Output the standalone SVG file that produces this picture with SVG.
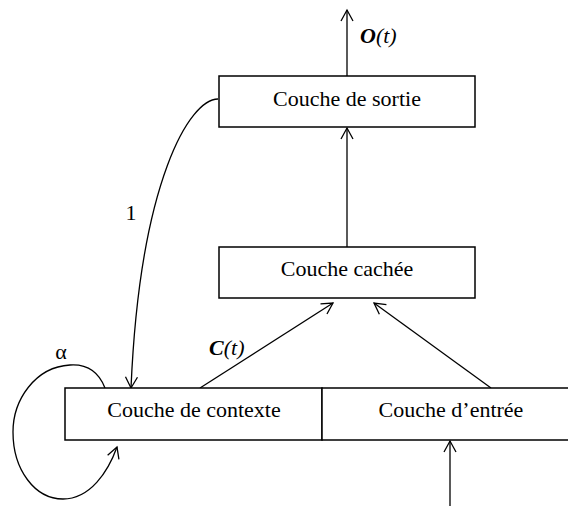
<svg xmlns="http://www.w3.org/2000/svg" width="568" height="506" viewBox="0 0 568 506">
<style>
.box{fill:#fff;stroke:#000;stroke-width:1.5}
.ln{fill:none;stroke:#000;stroke-width:1.3}
.t{font-family:"Liberation Serif","Times New Roman",serif;font-size:22px;fill:#000}
.m{text-anchor:middle}
</style>
<defs>
<marker id="ah" markerUnits="userSpaceOnUse" markerWidth="24" markerHeight="24" viewBox="-12 -12 24 24" refX="0" refY="0" orient="auto">
<path d="M-11,-6 L0,0 L-11,6" fill="none" stroke="#000" stroke-width="1.3"/>
</marker>
</defs>
<rect width="568" height="506" fill="#fff"/>
<g id="connectors">
<path class="ln" d="M347,76 L347,10" marker-end="url(#ah)"/>
<path class="ln" d="M347,247 L347,128" marker-end="url(#ah)"/>
<path class="ln" d="M200,388 L333,303" marker-end="url(#ah)"/>
<path class="ln" d="M491,388 L374,303" marker-end="url(#ah)"/>
<path class="ln" d="M450,506 L450,441" marker-end="url(#ah)"/>
<path class="ln" d="M218,99 C190,99 140,180 131,388" marker-end="url(#ah)"/>
<path class="ln" d="M105,388 C98,370 85,364 70,365 C35,367 13,400 13,432 C13,470 35,499 63,499 C90,499 108,472 117,447" marker-end="url(#ah)"/>
<text class="t" x="360" y="43"><tspan font-weight="bold" font-style="italic">O</tspan><tspan font-style="italic">(t)</tspan></text>
<text class="t" x="209" y="355"><tspan font-weight="bold" font-style="italic">C</tspan><tspan font-style="italic">(t)</tspan></text>
<text class="t m" x="131" y="220">1</text>
<text class="t m" x="61" y="359" font-size="25">α</text>
</g>
<g id="output">
<rect class="box" x="219" y="76" width="256" height="51"/>
<text class="t m" x="347" y="106">Couche de sortie</text>
</g>
<g id="hidden">
<rect class="box" x="219" y="247" width="256" height="51"/>
<text class="t m" x="347" y="276">Couche cachée</text>
</g>
<g id="context">
<rect class="box" x="65" y="388" width="257" height="52"/>
<text class="t m" x="194" y="417">Couche de contexte</text>
</g>
<g id="input">
<rect class="box" x="322" y="388" width="250" height="52"/>
<text class="t m" x="451" y="417">Couche d’entrée</text>
</g>
</svg>
